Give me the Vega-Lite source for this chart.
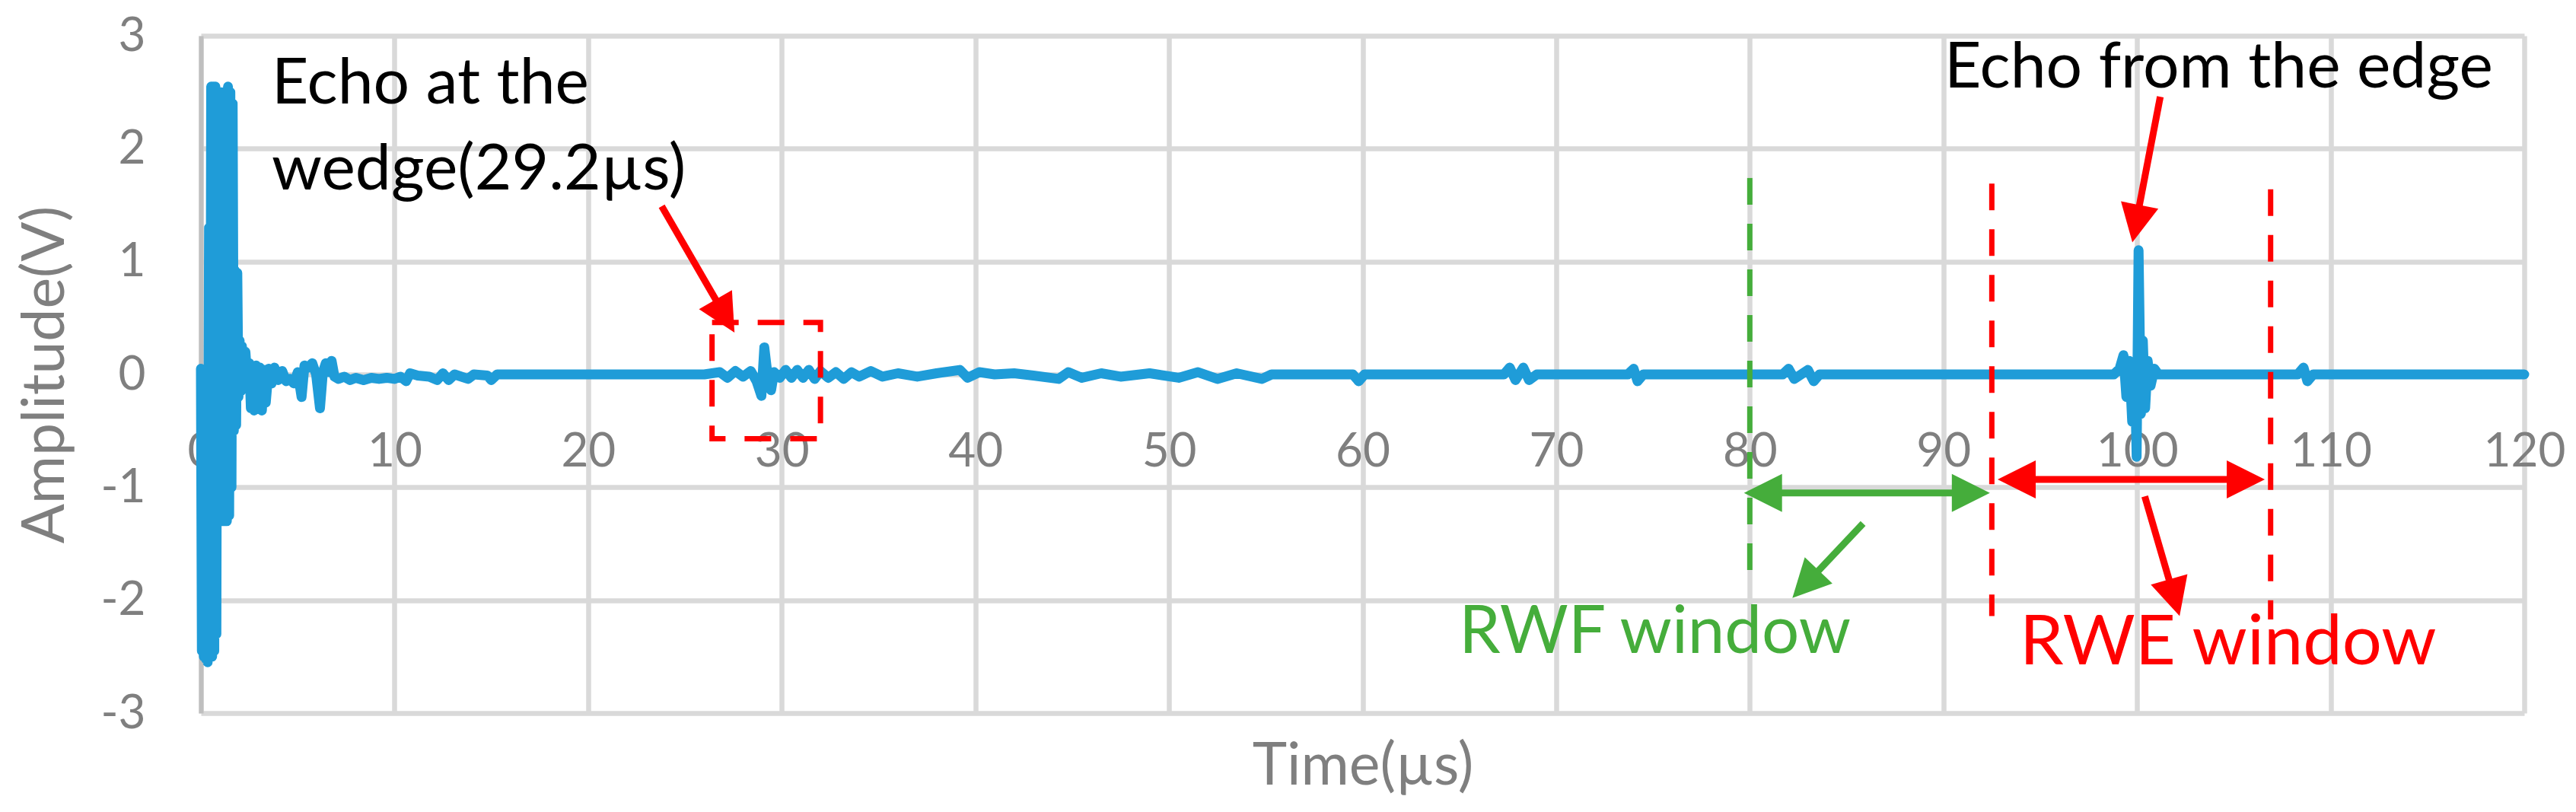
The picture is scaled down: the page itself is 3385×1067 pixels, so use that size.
{
  "$schema": "https://vega.github.io/schema/vega-lite/v6.json",
  "width": 3053,
  "height": 890,
  "autosize": {"type": "none"},
  "padding": {"left": 264, "top": 47, "right": 68, "bottom": 130},
  "background": "white",
  "config": {"view": {"stroke": null}, "font": "Lato"},
  "datasets": {
    "signal": [
      {"t":0,"v":0.05},{"t":0.05,"v":-2.45},{"t":0.1,"v":-0.1},{"t":0.15,"v":-2.5},{"t":0.2,"v":-0.3},{"t":0.25,"v":-2.52},{"t":0.3,"v":-0.5},{"t":0.35,"v":-2.55},{"t":0.42,"v":1.3},{"t":0.47,"v":-2.5},{"t":0.53,"v":2.55},{"t":0.58,"v":-2.5},{"t":0.64,"v":2.55},{"t":0.69,"v":-2.45},{"t":0.75,"v":2.55},{"t":0.8,"v":-2.3},{"t":0.86,"v":2.5},{"t":0.9,"v":0.25},{"t":0.95,"v":2.5},{"t":1.0,"v":0.3},{"t":1.05,"v":2.5},{"t":1.1,"v":-1.3},{"t":1.16,"v":2.5},{"t":1.22,"v":-1.3},{"t":1.28,"v":2.5},{"t":1.34,"v":-1.3},{"t":1.4,"v":2.55},{"t":1.46,"v":-1.25},{"t":1.52,"v":2.5},{"t":1.58,"v":-1.0},{"t":1.64,"v":2.4},{"t":1.7,"v":-0.5},{"t":1.76,"v":0.92},{"t":1.82,"v":-0.45},{"t":1.88,"v":0.9},{"t":1.94,"v":-0.2},{"t":2.0,"v":0.3},{"t":2.06,"v":-0.15},{"t":2.12,"v":0.25},{"t":2.2,"v":-0.1},{"t":2.3,"v":0.2},{"t":2.4,"v":-0.05},{"t":2.5,"v":0.1},{"t":2.58,"v":-0.3},{"t":2.66,"v":0.05},{"t":2.75,"v":-0.32},{"t":2.85,"v":0.08},{"t":2.95,"v":-0.2},{"t":3.05,"v":0.06},{"t":3.15,"v":-0.32},{"t":3.25,"v":0.04},{"t":3.35,"v":-0.25},{"t":3.5,"v":0.05},{"t":3.65,"v":-0.08},{"t":3.8,"v":0.06},{"t":4.0,"v":-0.05},{"t":4.2,"v":0.03},{"t":4.4,"v":-0.06},{"t":4.6,"v":-0.04},{"t":4.8,"v":-0.08},{"t":5.0,"v":0.02},{"t":5.2,"v":-0.2},{"t":5.35,"v":0.08},{"t":5.55,"v":0.06},{"t":5.75,"v":0.1},{"t":5.95,"v":0.0},{"t":6.15,"v":-0.3},{"t":6.3,"v":0.02},{"t":6.45,"v":0.1},{"t":6.6,"v":0.02},{"t":6.75,"v":0.12},{"t":6.9,"v":-0.02},{"t":7.1,"v":-0.04},{"t":7.4,"v":-0.02},{"t":7.7,"v":-0.05},{"t":8.0,"v":-0.03},{"t":8.4,"v":-0.05},{"t":8.8,"v":-0.03},{"t":9.2,"v":-0.04},{"t":9.6,"v":-0.03},{"t":10.0,"v":-0.04},{"t":10.3,"v":-0.02},{"t":10.6,"v":-0.06},{"t":10.8,"v":0.01},{"t":11.2,"v":-0.01},{"t":11.8,"v":-0.02},{"t":12.2,"v":-0.05},{"t":12.5,"v":0.01},{"t":12.8,"v":-0.05},{"t":13.1,"v":0.0},{"t":13.8,"v":-0.04},{"t":14.1,"v":0.0},{"t":14.8,"v":-0.01},{"t":15.0,"v":-0.05},{"t":15.3,"v":0.0},{"t":20,"v":0},{"t":26,"v":0},{"t":26.8,"v":0.02},{"t":27.2,"v":-0.03},{"t":27.6,"v":0.03},{"t":28.0,"v":-0.02},{"t":28.4,"v":0.03},{"t":28.7,"v":-0.06},{"t":28.95,"v":-0.19},{"t":29.1,"v":0.24},{"t":29.3,"v":-0.05},{"t":29.45,"v":-0.14},{"t":29.6,"v":0.02},{"t":29.9,"v":-0.03},{"t":30.2,"v":0.04},{"t":30.5,"v":-0.03},{"t":30.8,"v":0.04},{"t":31.1,"v":-0.03},{"t":31.4,"v":0.04},{"t":31.7,"v":-0.04},{"t":32.0,"v":0.03},{"t":32.4,"v":-0.03},{"t":32.8,"v":0.02},{"t":33.2,"v":-0.04},{"t":33.6,"v":0.02},{"t":34.0,"v":-0.02},{"t":34.6,"v":0.03},{"t":35.2,"v":-0.02},{"t":36,"v":0.01},{"t":37,"v":-0.02},{"t":38,"v":0.01},{"t":39.2,"v":0.04},{"t":39.6,"v":-0.03},{"t":40.2,"v":0.02},{"t":41,"v":0},{"t":42,"v":0.01},{"t":43,"v":-0.01},{"t":44.3,"v":-0.04},{"t":44.8,"v":0.02},{"t":45.5,"v":-0.03},{"t":46.5,"v":0.01},{"t":47.5,"v":-0.02},{"t":49,"v":0.01},{"t":50.5,"v":-0.03},{"t":51.5,"v":0.02},{"t":52.5,"v":-0.04},{"t":53.5,"v":0.01},{"t":54.8,"v":-0.04},{"t":55.3,"v":0.0},{"t":56,"v":0},{"t":59.5,"v":0},{"t":59.8,"v":-0.06},{"t":60.1,"v":0},{"t":67.3,"v":0},{"t":67.6,"v":0.06},{"t":67.9,"v":-0.05},{"t":68.3,"v":0.06},{"t":68.6,"v":-0.05},{"t":69,"v":0},{"t":73.7,"v":0},{"t":74,"v":0.05},{"t":74.2,"v":-0.06},{"t":74.5,"v":0},{"t":81.7,"v":0},{"t":82,"v":0.05},{"t":82.3,"v":-0.04},{"t":83,"v":0.04},{"t":83.3,"v":-0.06},{"t":83.6,"v":0},{"t":98.8,"v":0},{"t":99.1,"v":0.05},{"t":99.3,"v":0.17},{"t":99.45,"v":-0.2},{"t":99.6,"v":0.12},{"t":99.75,"v":-0.42},{"t":99.88,"v":0.1},{"t":99.98,"v":-0.73},{"t":100.08,"v":1.1},{"t":100.2,"v":-0.35},{"t":100.3,"v":0.3},{"t":100.42,"v":-0.3},{"t":100.55,"v":0.12},{"t":100.7,"v":-0.1},{"t":100.9,"v":0.05},{"t":101.1,"v":0},{"t":108.3,"v":0},{"t":108.6,"v":0.06},{"t":108.8,"v":-0.06},{"t":109.1,"v":0},{"t":120,"v":0}
    ]
  },
  "layer": [
    {
      "data": {"name": "signal"},
      "mark": {"type": "line", "color": "#1f9cd8", "strokeWidth": 13, "strokeCap": "round", "strokeJoin": "round"},
      "encoding": {
        "x": {
          "field": "t", "type": "quantitative",
          "scale": {"domain": [0, 120], "nice": false, "zero": false},
          "axis": {
            "title": "Time(µs)", "values": [0,10,20,30,40,50,60,70,80,90,100,110,120],
            "grid": true, "gridColor": "#d9d9d9", "gridWidth": 6.5,
            "domain": false, "ticks": false,
            "labelFont": "Lato", "labelFontSize": 62, "labelColor": "#7f7f7f",
            "labelPadding": -374, "labelFlush": false, "labelOverlap": false,
            "titleFont": "Lato", "titleFontSize": 77, "titleFontWeight": "normal", "titleColor": "#7f7f7f",
            "titleBaseline": "alphabetic", "titleY": 93
          }
        },
        "y": {
          "field": "v", "type": "quantitative",
          "scale": {"domain": [-3, 3], "nice": false},
          "axis": {
            "title": "Amplitude(V)", "values": [-3,-2,-1,0,1,2,3],
            "grid": true, "gridColor": "#d9d9d9", "gridWidth": 6.5,
            "domain": true, "domainColor": "#bfbfbf", "domainWidth": 6, "ticks": false,
            "labelFont": "Lato", "labelFontSize": 62, "labelColor": "#7f7f7f", "labelPadding": 73,
            "labelExpr": "datum.value < 0 ? '-' + abs(datum.value) : '' + datum.value",
            "titleFont": "Lato", "titleFontSize": 77, "titleFontWeight": "normal", "titleColor": "#7f7f7f",
            "titlePadding": 33
          }
        }
      }
    },
    {
      "data": {"values": [{"t": 80, "v": 1.74, "v2": -1.89}]},
      "mark": {"type": "rule", "color": "#45ad3b", "strokeWidth": 7, "strokeDash": [35, 25]},
      "encoding": {"x": {"field": "t", "type": "quantitative"}, "y": {"field": "v", "type": "quantitative"}, "y2": {"field": "v2"}}
    },
    {
      "data": {"values": [{"t": 92.5, "v": 1.69, "v2": -2.14}, {"t": 106.9, "v": 1.64, "v2": -2.17}]},
      "mark": {"type": "rule", "color": "#ff0000", "strokeWidth": 7, "strokeDash": [35, 25]},
      "encoding": {"x": {"field": "t", "type": "quantitative"}, "y": {"field": "v", "type": "quantitative"}, "y2": {"field": "v2"}}
    },
    {
      "data": {"values": [{"t": 26.4, "t2": 32.0, "v": 0.46, "v2": -0.57}]},
      "mark": {"type": "rect", "fillOpacity": 0, "stroke": "#ff0000", "strokeWidth": 7, "strokeDash": [35, 25]},
      "encoding": {"x": {"field": "t", "type": "quantitative"}, "x2": {"field": "t2"}, "y": {"field": "v", "type": "quantitative"}, "y2": {"field": "v2"}}
    },
    {
      "data": {"values": [{"t": 80.7, "v": -1.05, "t2": 91.4, "v2": -1.05}, {"t": 85.85, "v": -1.32, "t2": 82.88, "v2": -1.86}]},
      "mark": {"type": "rule", "color": "#45ad3b", "strokeWidth": 9},
      "encoding": {"x": {"field": "t", "type": "quantitative"}, "x2": {"field": "t2"}, "y": {"field": "v", "type": "quantitative"}, "y2": {"field": "v2"}}
    },
    {
      "data": {"values": [{"t": 23.8, "v": 1.49, "t2": 27.07, "v2": 0.52}, {"t": 101.2, "v": 2.46, "t2": 99.94, "v2": 1.335}, {"t": 93.8, "v": -0.93, "t2": 105.6, "v2": -0.93}, {"t": 100.4, "v": -1.08, "t2": 101.93, "v2": -1.98}]},
      "mark": {"type": "rule", "color": "#ff0000", "strokeWidth": 9},
      "encoding": {"x": {"field": "t", "type": "quantitative"}, "x2": {"field": "t2"}, "y": {"field": "v", "type": "quantitative"}, "y2": {"field": "v2"}}
    },
    {
      "data": {"values": [{"t": 79.7, "v": -1.05}]},
      "mark": {"type": "point", "shape": "M0,0L-0.5,1L0.5,1Z", "size": 10000, "filled": true, "opacity": 1, "color": "#45ad3b", "strokeWidth": 0, "angle": 270},
      "encoding": {"x": {"field": "t", "type": "quantitative"}, "y": {"field": "v", "type": "quantitative"}}
    },
    {
      "data": {"values": [{"t": 92.4, "v": -1.05}]},
      "mark": {"type": "point", "shape": "M0,0L-0.5,1L0.5,1Z", "size": 10000, "filled": true, "opacity": 1, "color": "#45ad3b", "strokeWidth": 0, "angle": 90},
      "encoding": {"x": {"field": "t", "type": "quantitative"}, "y": {"field": "v", "type": "quantitative"}}
    },
    {
      "data": {"values": [{"t": 82.2, "v": -1.98}]},
      "mark": {"type": "point", "shape": "M0,0L-0.5,1L0.5,1Z", "size": 10000, "filled": true, "opacity": 1, "color": "#45ad3b", "strokeWidth": 0, "angle": 223.5},
      "encoding": {"x": {"field": "t", "type": "quantitative"}, "y": {"field": "v", "type": "quantitative"}}
    },
    {
      "data": {"values": [{"t": 27.56, "v": 0.37}]},
      "mark": {"type": "point", "shape": "M0,0L-0.5,1L0.5,1Z", "size": 10000, "filled": true, "opacity": 1, "color": "#ff0000", "strokeWidth": 0, "angle": 150},
      "encoding": {"x": {"field": "t", "type": "quantitative"}, "y": {"field": "v", "type": "quantitative"}}
    },
    {
      "data": {"values": [{"t": 99.76, "v": 1.17}]},
      "mark": {"type": "point", "shape": "M0,0L-0.5,1L0.5,1Z", "size": 10000, "filled": true, "opacity": 1, "color": "#ff0000", "strokeWidth": 0, "angle": 191},
      "encoding": {"x": {"field": "t", "type": "quantitative"}, "y": {"field": "v", "type": "quantitative"}}
    },
    {
      "data": {"values": [{"t": 92.8, "v": -0.93}]},
      "mark": {"type": "point", "shape": "M0,0L-0.5,1L0.5,1Z", "size": 10000, "filled": true, "opacity": 1, "color": "#ff0000", "strokeWidth": 0, "angle": 270},
      "encoding": {"x": {"field": "t", "type": "quantitative"}, "y": {"field": "v", "type": "quantitative"}}
    },
    {
      "data": {"values": [{"t": 106.6, "v": -0.93}]},
      "mark": {"type": "point", "shape": "M0,0L-0.5,1L0.5,1Z", "size": 10000, "filled": true, "opacity": 1, "color": "#ff0000", "strokeWidth": 0, "angle": 90},
      "encoding": {"x": {"field": "t", "type": "quantitative"}, "y": {"field": "v", "type": "quantitative"}}
    },
    {
      "data": {"values": [{"t": 102.2, "v": -2.14}]},
      "mark": {"type": "point", "shape": "M0,0L-0.5,1L0.5,1Z", "size": 10000, "filled": true, "opacity": 1, "color": "#ff0000", "strokeWidth": 0, "angle": 164},
      "encoding": {"x": {"field": "t", "type": "quantitative"}, "y": {"field": "v", "type": "quantitative"}}
    },
    {
      "data": {"values": [{"t": 3.66, "v": 2.40, "label": "Echo at the"}, {"t": 3.66, "v": 1.64, "label": "wedge(29.2µs)"}, {"t": 90.05, "v": 2.54, "label": "Echo from the edge"}]},
      "mark": {"type": "text", "font": "Lato", "fontSize": 84, "align": "left", "baseline": "alphabetic", "color": "#000000"},
      "encoding": {"x": {"field": "t", "type": "quantitative"}, "y": {"field": "v", "type": "quantitative"}, "text": {"field": "label"}}
    },
    {
      "data": {"values": [{"t": 75.1, "v": -2.47, "label": "RWF window"}]},
      "mark": {"type": "text", "font": "Lato", "fontSize": 87, "align": "center", "baseline": "alphabetic", "color": "#45ad3b"},
      "encoding": {"x": {"field": "t", "type": "quantitative"}, "y": {"field": "v", "type": "quantitative"}, "text": {"field": "label"}}
    },
    {
      "data": {"values": [{"t": 104.7, "v": -2.57, "label": "RWE window"}]},
      "mark": {"type": "text", "font": "Lato", "fontSize": 92, "align": "center", "baseline": "alphabetic", "color": "#ff0000"},
      "encoding": {"x": {"field": "t", "type": "quantitative"}, "y": {"field": "v", "type": "quantitative"}, "text": {"field": "label"}}
    }
  ]
}
